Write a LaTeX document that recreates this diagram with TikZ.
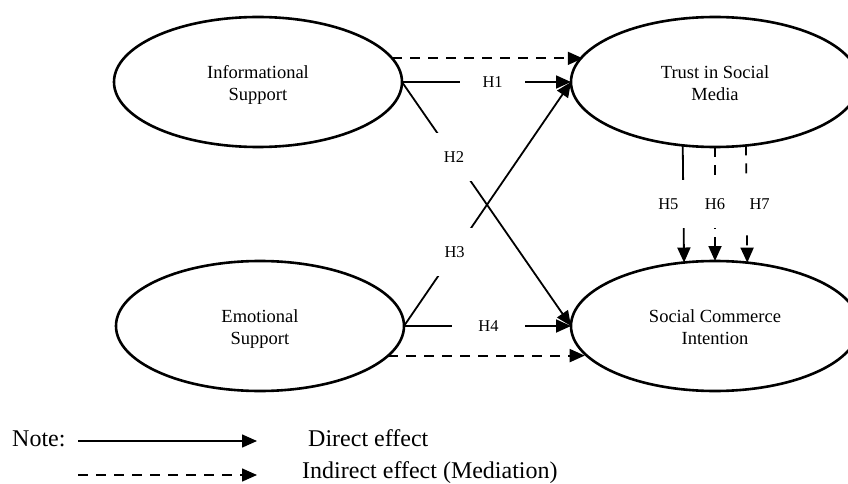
\documentclass[tikz,border=0pt]{standalone}
\usepackage{fontspec}
\setmainfont{Liberation Serif}
\usetikzlibrary{arrows.meta,shapes.geometric}
\newcommand{\toprule}{\rule{0pt}{22.5pt}}
\newcommand{\botrule}{\rule[-6.6pt]{0pt}{6.6pt}}
\begin{document}
\begin{tikzpicture}[x=1pt,y=-1pt,
  construct/.style={ellipse, draw, line width=2.6pt, minimum width=288pt, minimum height=130pt,
    inner sep=0pt, outer sep=0pt, align=center, font=\fontsize{18.5}{22}\selectfont},
  direct/.style={line width=1.8pt, -{Triangle[length=15pt,width=13pt]}},
  indirect/.style={direct, dash pattern=on 10pt off 8pt},
  hlabel/.style={fill=white, inner sep=0pt, minimum width=#1, minimum height=48pt,
    font=\fontsize{16.5}{18}\selectfont},
  hlabel/.default=40pt,
  legendtext/.style={anchor=base west, inner sep=0pt, font=\fontsize{24}{27}\selectfont},
  legendline/.style={line width=1.5pt, -{Triangle[length=15pt,width=13pt]}}
]
\useasboundingbox (0,0) rectangle (848,484);

% constructs
\node[construct] (IS)  at (258,82)  {\toprule Informational\\Support\botrule};
\node[construct] (TSM) at (715,82)  {\toprule Trust in Social\\Media\botrule};
\node[construct] (ES)  at (260,326) {\toprule Emotional\\Support\botrule};
\node[construct] (SCI) at (715,326) {\toprule Social Commerce\\Intention\botrule};

% direct effects
\draw[direct] (IS.east) -- node[hlabel=65pt, pos=0.536] {H1} (TSM.west);
\draw[direct] (IS.east) -- node[hlabel, pos=0.308] {H2} (SCI.west);
\draw[direct] (ES.east) -- node[hlabel, pos=0.303] {H3} (TSM.west);
\draw[direct] (ES.east) -- node[hlabel=73pt, pos=0.506] {H4} (SCI.west);
\draw[direct] (TSM.243.2) -- node[hlabel, xshift=-15pt] {H5} (SCI.116.8);

% indirect effects
\draw[indirect] (TSM.south) -- node[hlabel] {H6} (SCI.north);
\draw[indirect] (TSM.296.8) -- node[hlabel, xshift=13pt] {H7} (SCI.63.2);
\draw[indirect] (IS.10.65) -- (IS.10.65 -| TSM.169.35);
\draw[indirect] (ES.347.32) -- (ES.347.32 -| SCI.192.68);

% legend
\node[legendtext] (note) at (12,446) {Note:};
\node[legendtext] (directtxt) at (308,446) {Direct effect};
\node[legendtext] (indirecttxt) at (302,478) {Indirect effect (Mediation)};
\coordinate (d0) at (78,441);
\coordinate (d1) at (257,441);
\coordinate (i0) at (78,475);
\coordinate (i1) at (257,475);
\draw[legendline] (d0) -- (d1);
\draw[legendline, dash pattern=on 10pt off 8pt] (i0) -- (i1);
\end{tikzpicture}
\end{document}
